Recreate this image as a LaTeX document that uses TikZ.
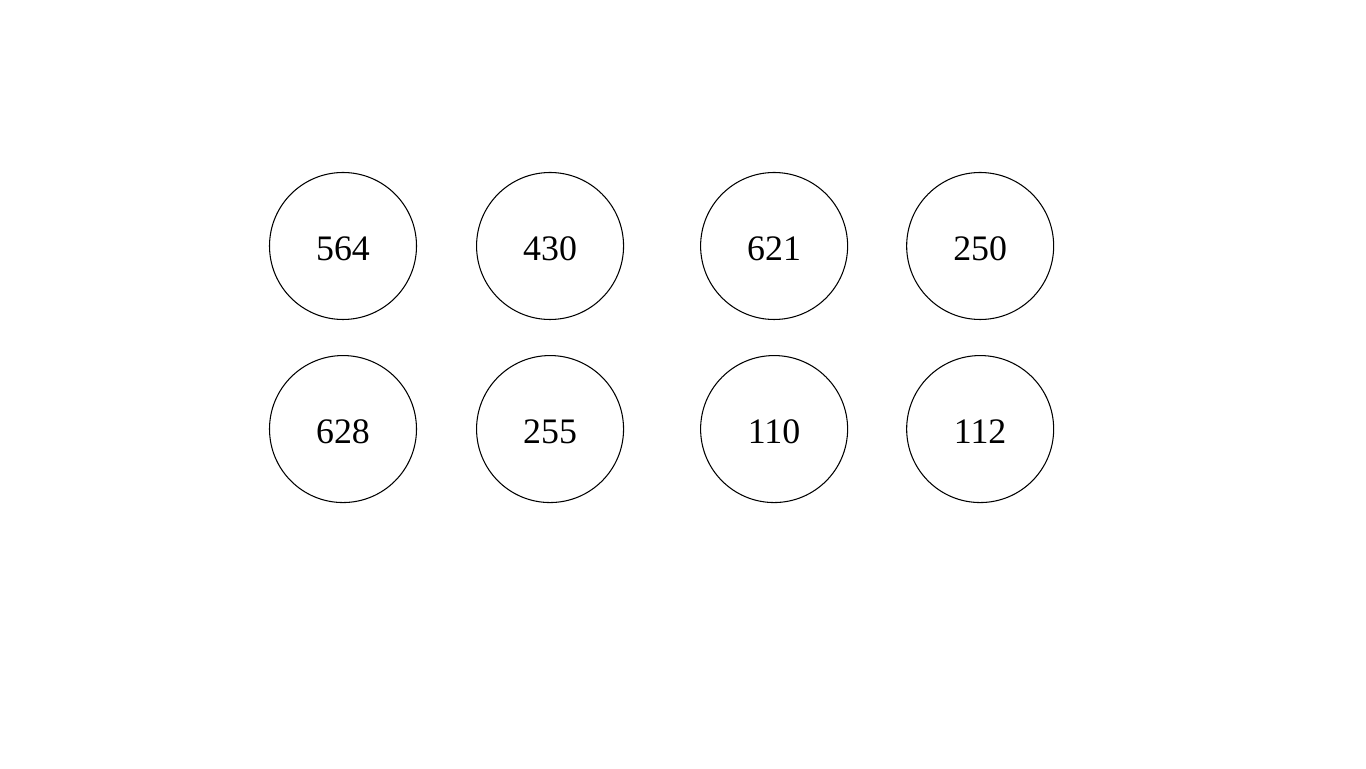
\documentclass[tikz,border=0pt]{standalone}
\usepackage{fontspec}
\setmainfont{Liberation Serif}
\usetikzlibrary{positioning}

\begin{document}
\begin{tikzpicture}[
    numnode/.style={draw, circle, minimum size=1.47cm, inner sep=0pt,
                    line width=0.3pt, text height=0.29cm,
                    font=\fontsize{10.2}{12}\selectfont}
  ]
  \useasboundingbox (0,0) rectangle (13.66,7.68);

  % top row
  \node[numnode] (a) at (3.43,5.22) {564};
  \node[numnode, right=0.59cm of a] (b) {430};
  \node[numnode, right=0.76cm of b] (c) {621};
  \node[numnode, right=0.58cm of c] (d) {250};

  % bottom row
  \node[numnode, below=0.35cm of a] (e) {628};
  \node[numnode, below=0.35cm of b] (f) {255};
  \node[numnode, below=0.35cm of c] (g) {110};
  \node[numnode, below=0.35cm of d] (h) {112};
\end{tikzpicture}
\end{document}
